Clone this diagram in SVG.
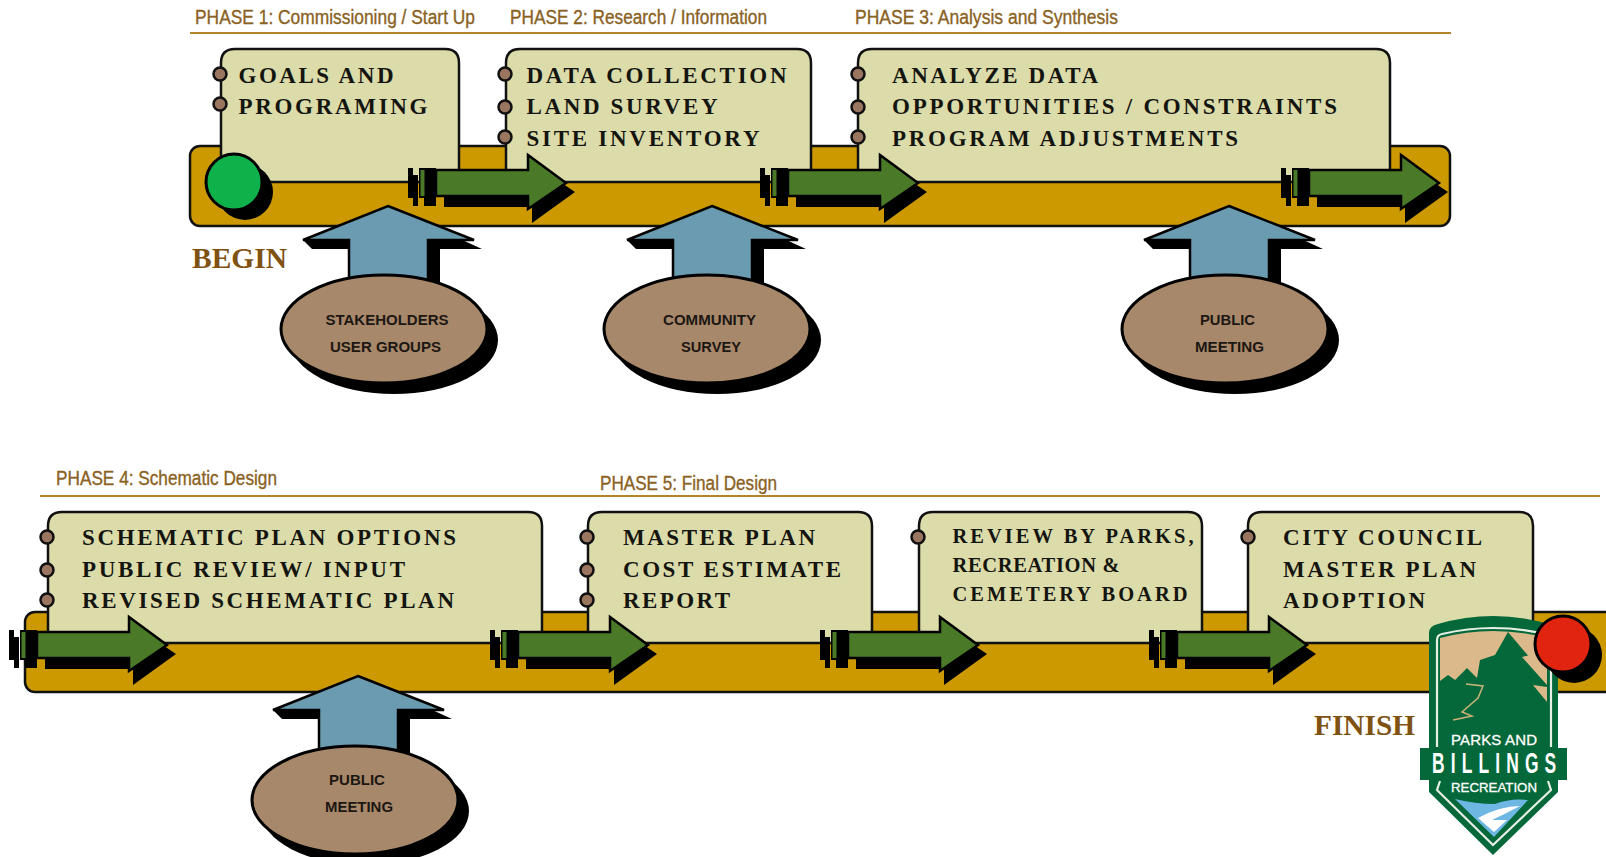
<svg xmlns="http://www.w3.org/2000/svg" width="1606" height="857" viewBox="0 0 1606 857">
<style>
.band{fill:#cc9900;stroke:#111;stroke-width:2.5}
.box{fill:#dcdcaa;stroke:#111;stroke-width:2.5}
.dot{fill:#9a7560;stroke:#111;stroke-width:2.5}
.rule{stroke:#b3842a;stroke-width:2;fill:none}
.phase{font:20px "Liberation Sans",Arial,sans-serif;fill:#8a6224;stroke:#8a6224;stroke-width:.35}
.step{font:bold 23px "Liberation Serif","Times New Roman",serif;fill:#151510}
.small{font-size:20.5px}
.oval{font:bold 14.5px "Liberation Sans",Arial,sans-serif;fill:#1c1712}
.big{font:bold 29px "Liberation Serif","Times New Roman",serif;fill:#7f5212}
.ell{fill:#a8886a;stroke:#000;stroke-width:3}
.lw{font-family:"Liberation Sans",Arial,sans-serif;fill:#fff}
</style>
<defs>
<g id="flow">
<path d="M36 20H124V8L167 37 124 68V52H36Z" fill="#000"/>
<path d="M0 13H5V43H0ZM5 20H10V51H5ZM11 13H18V43H11ZM16 13H28V51H16Z" fill="#000"/>
<rect x="12.5" y="15" width="4" height="26" fill="#4a7a28"/>
<path d="M28 15H120V0L158 28 120 54V41H28Z" fill="#4a7a28" stroke="#000" stroke-width="2.5"/>
</g>
<g id="up">
<path d="M388 206L482 249 440 249V290H349V240H303Z" fill="#000"/>
<path d="M303 240L312 249H360V240Z" fill="#000"/>
<path d="M388 206L474 240H428V290H349V240H303Z" fill="#6a9bb0" stroke="#000" stroke-width="2.5"/>
</g>
<g id="oval">
<ellipse cx="394" cy="340" rx="104" ry="54" fill="#000"/>
<ellipse class="ell" cx="384" cy="329" rx="103" ry="54"/>
</g>
</defs>

<g id="rules">
<path class="rule" d="M190 33H1451"/>
<path class="rule" d="M40 496H1600"/>
</g>

<g id="band-1"><rect class="band" x="190" y="146" width="1260" height="80" rx="10"/></g>
<g id="band-2"><rect class="band" x="25" y="612" width="1590" height="80" rx="10"/></g>

<g id="phase-labels">
<text class="phase" x="195" y="24" textLength="280" lengthAdjust="spacingAndGlyphs">PHASE 1: Commissioning / Start Up</text>
<text class="phase" x="510" y="24" textLength="257" lengthAdjust="spacingAndGlyphs">PHASE 2: Research / Information</text>
<text class="phase" x="855" y="24" textLength="263" lengthAdjust="spacingAndGlyphs">PHASE 3: Analysis and Synthesis</text>
<text class="phase" x="56" y="485" textLength="221" lengthAdjust="spacingAndGlyphs">PHASE 4: Schematic Design</text>
<text class="phase" x="600" y="490" textLength="177" lengthAdjust="spacingAndGlyphs">PHASE 5: Final Design</text>
</g>

<g id="node-goals">
<path class="box" d="M221 182V63Q221 49 235 49H445Q459 49 459 63V182Z"/>
<circle class="dot" cx="220" cy="74" r="6.5"/><circle class="dot" cx="220" cy="104" r="6.5"/>
<text class="step" x="238.5" y="83" textLength="155">GOALS AND</text>
<text class="step" x="238.5" y="114" textLength="189">PROGRAMING</text>
</g>
<g id="node-data">
<path class="box" d="M506 182V63Q506 49 520 49H797Q811 49 811 63V182Z"/>
<circle class="dot" cx="505" cy="74" r="6.5"/><circle class="dot" cx="505" cy="107" r="6.5"/><circle class="dot" cx="505" cy="137" r="6.5"/>
<text class="step" x="526.5" y="83" textLength="260">DATA COLLECTION</text>
<text class="step" x="526.5" y="114" textLength="191">LAND SURVEY</text>
<text class="step" x="526.5" y="146" textLength="233">SITE INVENTORY</text>
</g>
<g id="node-analyze">
<path class="box" d="M858 182V63Q858 49 872 49H1376Q1390 49 1390 63V182Z"/>
<circle class="dot" cx="858" cy="74" r="6.5"/><circle class="dot" cx="858" cy="107" r="6.5"/><circle class="dot" cx="858" cy="137" r="6.5"/>
<text class="step" x="892" y="83" textLength="206">ANALYZE DATA</text>
<text class="step" x="892" y="114" textLength="445">OPPORTUNITIES / CONSTRAINTS</text>
<text class="step" x="892" y="146" textLength="346">PROGRAM ADJUSTMENTS</text>
</g>
<g id="node-schematic">
<path class="box" d="M48 643V526Q48 512 62 512H528Q542 512 542 526V643Z"/>
<circle class="dot" cx="47" cy="537" r="6.5"/><circle class="dot" cx="47" cy="570" r="6.5"/><circle class="dot" cx="47" cy="600" r="6.5"/>
<text class="step" x="82" y="545" textLength="374">SCHEMATIC PLAN OPTIONS</text>
<text class="step" x="82" y="577" textLength="323">PUBLIC REVIEW/ INPUT</text>
<text class="step" x="82" y="608" textLength="372">REVISED SCHEMATIC PLAN</text>
</g>
<g id="node-master">
<path class="box" d="M588 643V526Q588 512 602 512H858Q872 512 872 526V643Z"/>
<circle class="dot" cx="587" cy="537" r="6.5"/><circle class="dot" cx="587" cy="570" r="6.5"/><circle class="dot" cx="587" cy="600" r="6.5"/>
<text class="step" x="623" y="545" textLength="192">MASTER PLAN</text>
<text class="step" x="623" y="577" textLength="218">COST ESTIMATE</text>
<text class="step" x="623" y="608" textLength="107">REPORT</text>
</g>
<g id="node-review">
<path class="box" d="M919 643V526Q919 512 933 512H1188Q1202 512 1202 526V643Z"/>
<circle class="dot" cx="918" cy="537" r="6.5"/>
<text class="step small" x="952.5" y="543" textLength="241">REVIEW BY PARKS,</text>
<text class="step small" x="952.5" y="572" textLength="167">RECREATION &amp;</text>
<text class="step small" x="952.5" y="601" textLength="235">CEMETERY BOARD</text>
</g>
<g id="node-council">
<path class="box" d="M1248 643V526Q1248 512 1262 512H1519Q1533 512 1533 526V643Z"/>
<circle class="dot" cx="1248" cy="537" r="6.5"/>
<text class="step" x="1283" y="545" textLength="199">CITY COUNCIL</text>
<text class="step" x="1283" y="577" textLength="193">MASTER PLAN</text>
<text class="step" x="1283" y="608" textLength="142">ADOPTION</text>
</g>

<g id="connectors">
<use href="#flow" x="408" y="155"/>
<use href="#flow" x="760" y="155"/>
<use href="#flow" x="1281" y="155"/>
<use href="#flow" x="9" y="617"/>
<use href="#flow" x="490" y="617"/>
<use href="#flow" x="820" y="617"/>
<use href="#flow" x="1149" y="617"/>
<use href="#up"/>
<use href="#up" x="324"/>
<use href="#up" x="841"/>
<use href="#up" x="-30" y="470"/>
</g>

<g id="node-begin">
<circle cx="245" cy="192" r="28" fill="#000"/>
<circle cx="234" cy="182" r="28" fill="#0fb14a" stroke="#000" stroke-width="3"/>
<text class="big" x="192" y="268" textLength="95" lengthAdjust="spacingAndGlyphs">BEGIN</text>
</g>
<g id="node-stakeholders">
<use href="#oval"/>
<text class="oval" x="325.5" y="325" textLength="123" lengthAdjust="spacingAndGlyphs">STAKEHOLDERS</text>
<text class="oval" x="330" y="352" textLength="111" lengthAdjust="spacingAndGlyphs">USER GROUPS</text>
</g>
<g id="node-survey">
<use href="#oval" x="323"/>
<text class="oval" x="663" y="325" textLength="93" lengthAdjust="spacingAndGlyphs">COMMUNITY</text>
<text class="oval" x="681" y="352" textLength="60" lengthAdjust="spacingAndGlyphs">SURVEY</text>
</g>
<g id="node-meeting-1">
<use href="#oval" x="841"/>
<text class="oval" x="1200" y="325" textLength="55" lengthAdjust="spacingAndGlyphs">PUBLIC</text>
<text class="oval" x="1195" y="352" textLength="69" lengthAdjust="spacingAndGlyphs">MEETING</text>
</g>
<g id="node-meeting-2">
<use href="#oval" x="-29" y="471"/>
<text class="oval" x="329" y="785" textLength="56" lengthAdjust="spacingAndGlyphs">PUBLIC</text>
<text class="oval" x="325" y="812" textLength="68" lengthAdjust="spacingAndGlyphs">MEETING</text>
</g>

<g id="logo">
<path d="M1429 633Q1429 626 1438 624Q1493 608 1549 624Q1558 626 1558 633V748H1567V780H1558V792L1493 855 1429 792V780H1420V748H1429Z" fill="#04683a"/>
<path d="M1440 638Q1493 624 1547 638V678L1508 632 1495 655 1480 660 1477 678 1467 668 1455 680 1448 675 1440 681Z" fill="#dcb98a"/>
<path d="M1530 655L1522 657 1547 685V672ZM1533 685L1547 702V687Z" fill="#dcb98a"/>
<path d="M1437 747V640Q1437 635 1442 634Q1493 622 1545 634Q1551 635 1551 640V747M1440 781L1437 790 1493 845 1551 790 1548 781" fill="none" stroke="#e8efe6" stroke-width="2.2"/>
<path d="M1466 684L1483 686 1478 698 1462 712 1472 716 1453 720" fill="none" stroke="#cbb27a" stroke-width="1.5"/>
<path d="M1455 799Q1475 804 1495 804Q1510 798 1528 800L1494 837Z" fill="#6fb7e3"/>
<path d="M1478 818Q1500 806 1520 806Q1505 814 1492 820L1507 820 1494 832Z" fill="#fff"/>
<text class="lw" x="1451" y="745" font-size="15" textLength="86" lengthAdjust="spacing" stroke="#fff" stroke-width=".3">PARKS AND</text>
<text class="lw" transform="translate(1432 773) scale(.6 1)" font-size="29" font-weight="bold" textLength="207" lengthAdjust="spacing">BILLINGS</text>
<text class="lw" x="1451" y="792" font-size="13.5" textLength="86" lengthAdjust="spacingAndGlyphs" stroke="#fff" stroke-width=".3">RECREATION</text>
</g>

<g id="node-finish">
<circle cx="1574" cy="655" r="28" fill="#000"/>
<circle cx="1563" cy="644" r="28" fill="#e0240f" stroke="#000" stroke-width="3"/>
<text class="big" x="1314" y="735" textLength="101" lengthAdjust="spacingAndGlyphs">FINISH</text>
</g>
</svg>
